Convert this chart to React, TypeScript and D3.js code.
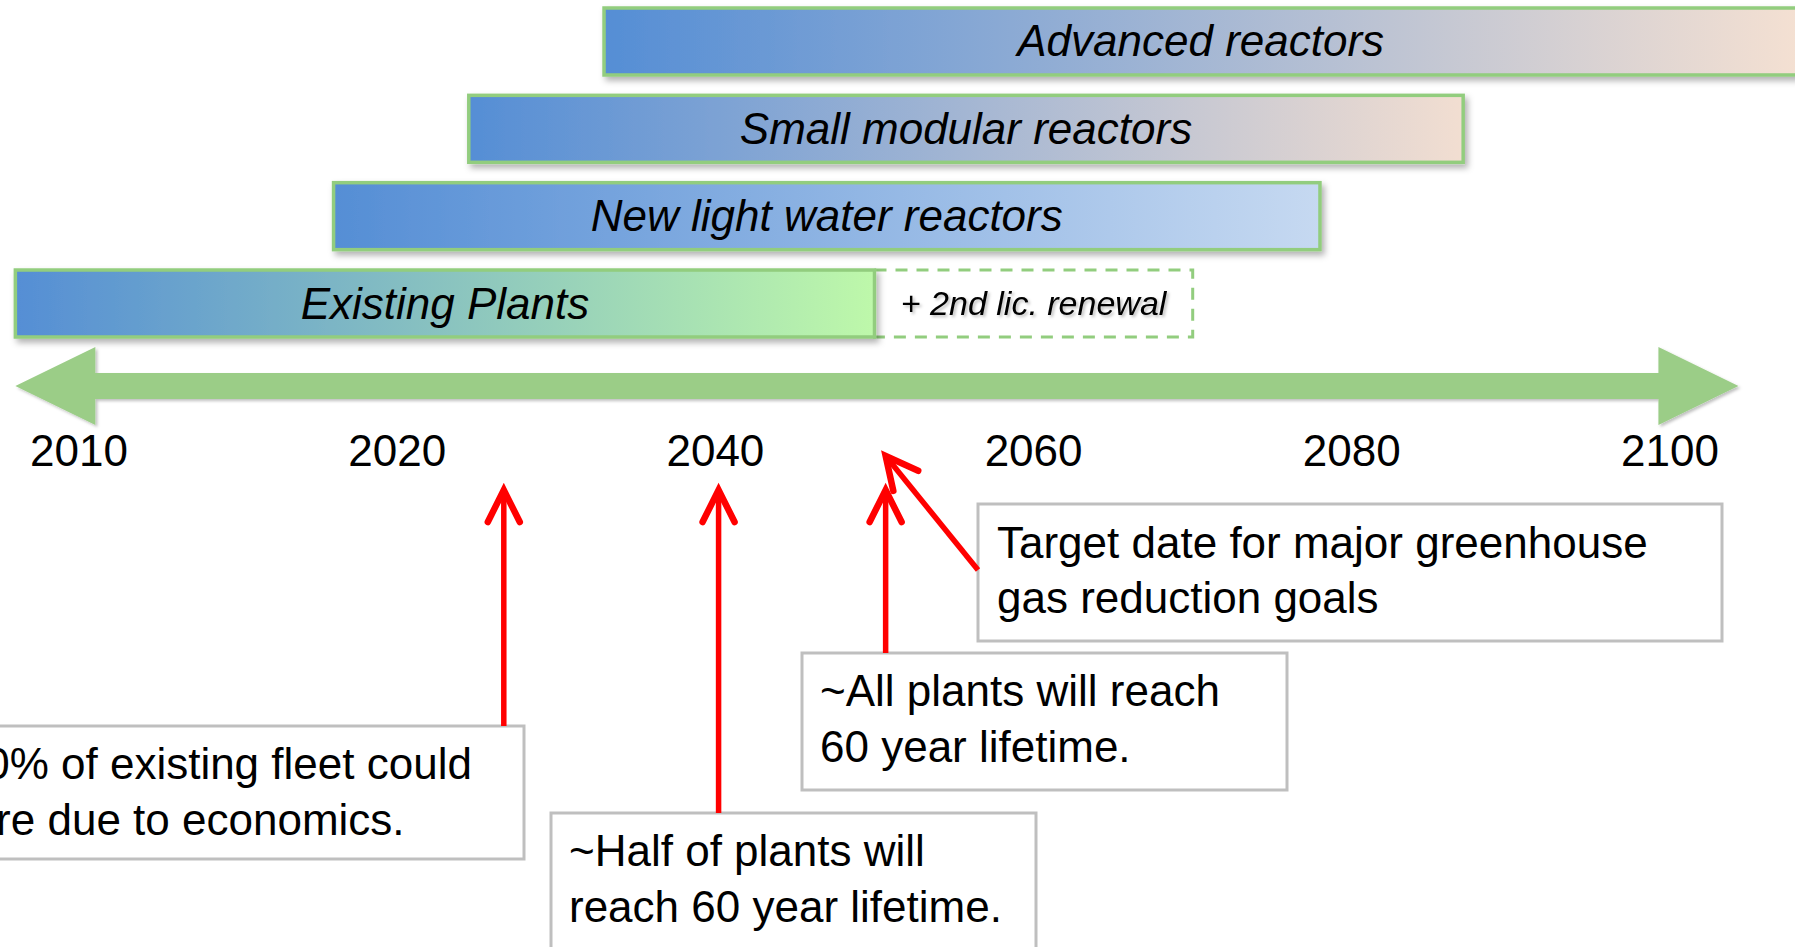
import React from 'react';
import * as d3 from 'd3';

// timeline ticks (evenly spaced in the picture, even though 2010->2020 is only 10 years)
const yearTicks = ['2010', '2020', '2040', '2060', '2080', '2100'];

// programme bars, top to bottom
const programs = ['Advanced reactors', 'Small modular reactors', 'New light water reactors', 'Existing Plants'];
const programStart = [2033, 2024.5, 2018, 2008];
const programEnd = [2108, 2087, 2078, 2050];
const programEndColor = ['#F4E0D2', '#F2DED1', '#C6D9F1', '#BEF8AA'];

const renewalLabel = '+ 2nd lic. renewal';
const renewalEnd = 2070;

const axisSpan = [2008, 2104.3];

// red call-outs
const noteYears = [2026.7, 2040.2, 2050.7];
const noteText = [
  ['~20% of existing fleet could', 'retire due to economics.'],
  ['~Half of plants will', 'reach 60 year lifetime.'],
  ['~All plants will reach', '60 year lifetime.'],
];
const targetYear = 2050.7;
const targetText = ['Target date for major greenhouse', 'gas reduction goals'];

const W = 1795;
const H = 947;
const FONT = '"Liberation Sans Narrow", "Arial Narrow", sans-serif';
const BLUE = '#558ED5';
const GREEN_LINE = '#92CD7E';
const ARROW_GREEN = '#9BCD87';
const RED = '#FF0000';

// note box placement (layout only)
const noteBoxes = [
  { x: -83, y: 726, w: 607, h: 133 },
  { x: 551, y: 813, w: 485, h: 150 },
  { x: 802, y: 653, w: 485, h: 137 },
];
const targetBox = { x: 978, y: 504, w: 744, h: 137 };

export default function App() {
  const tick = d3.scalePoint<string>().domain(yearTicks).range([79, 1670]).padding(0);
  const years = yearTicks.map(Number);
  const x = d3.scaleLinear().domain(years).range(yearTicks.map((t) => tick(t) as number));

  const row = d3.scaleBand<string>().domain(programs).range([8, 337]).paddingInner(0.233).paddingOuter(0);
  const bh = row.bandwidth();

  const axisY = 386;
  const x0 = x(axisSpan[0]);
  const x1 = x(axisSpan[1]);
  const head = 80;
  const shaft = 13;
  const half = 39;
  const axisPath = d3.path();
  axisPath.moveTo(x0, axisY);
  axisPath.lineTo(x0 + head, axisY - half);
  axisPath.lineTo(x0 + head, axisY - shaft);
  axisPath.lineTo(x1 - head, axisY - shaft);
  axisPath.lineTo(x1 - head, axisY - half);
  axisPath.lineTo(x1, axisY);
  axisPath.lineTo(x1 - head, axisY + half);
  axisPath.lineTo(x1 - head, axisY + shaft);
  axisPath.lineTo(x0 + head, axisY + shaft);
  axisPath.lineTo(x0 + head, axisY + half);
  axisPath.closePath();

  const existing = programs[3];
  const exY = row(existing) as number;

  return (
    <svg width={W} height={H} style={{ position: 'absolute', left: 0, top: 0, background: '#fff' }}>
      <defs>
        <filter id="shadow" x="-5%" y="-20%" width="115%" height="160%">
          <feDropShadow dx="3" dy="4" stdDeviation="3" floodColor="#000" floodOpacity="0.3" />
        </filter>
        <filter id="tshadow" x="-5%" y="-20%" width="115%" height="160%">
          <feDropShadow dx="2" dy="2" stdDeviation="1.5" floodColor="#000" floodOpacity="0.25" />
        </filter>
        {programs.map((p, i) => (
          <linearGradient key={p} id={`g${i}`} x1="0" x2="1" y1="0" y2="0">
            <stop offset="0" stopColor={BLUE} />
            <stop offset="1" stopColor={programEndColor[i]} />
          </linearGradient>
        ))}
        <marker id="head" markerUnits="userSpaceOnUse" orient="auto" refX="0" refY="0"
          viewBox="-40 -25 50 50" markerWidth="50" markerHeight="50" overflow="visible">
          <path d="M-32,-16 L0,0 L-32,16" fill="none" stroke={RED} strokeWidth={6.5}
            strokeLinecap="round" strokeLinejoin="miter" />
        </marker>
      </defs>

      {/* renewal dashed extension */}
      <rect x={x(programEnd[3])} y={exY} width={x(renewalEnd) - x(programEnd[3])} height={bh}
        fill="#fff" stroke={GREEN_LINE} strokeWidth={3} strokeDasharray="12 9" />
      <text x={(x(programEnd[3]) + x(renewalEnd)) / 2} y={exY + bh / 2 + 11} textAnchor="middle"
        fontFamily={FONT} fontStyle="italic" fontSize={34} fill="#000" filter="url(#tshadow)">
        {renewalLabel}
      </text>

      {/* programme bars */}
      {programs.map((p, i) => {
        const bx = x(programStart[i]);
        const bw = x(programEnd[i]) - bx;
        const by = row(p) as number;
        return (
          <g key={p}>
            <rect x={bx} y={by} width={bw} height={bh} fill={`url(#g${i})`} stroke={GREEN_LINE}
              strokeWidth={3.5} filter="url(#shadow)" />
            <text x={bx + bw / 2} y={by + bh / 2 + 15} textAnchor="middle" fontFamily={FONT}
              fontStyle="italic" fontSize={44} fill="#000">
              {p}
            </text>
          </g>
        );
      })}

      {/* timeline arrow */}
      <path d={axisPath.toString()} fill={ARROW_GREEN} filter="url(#tshadow)" />
      {yearTicks.map((t) => (
        <text key={t} x={tick(t)} y={466} textAnchor="middle" fontFamily={FONT} fontSize={44} fill="#000">
          {t}
        </text>
      ))}

      {/* call-out boxes */}
      {noteBoxes.map((b, i) => (
        <g key={i}>
          <rect x={b.x} y={b.y} width={b.w} height={b.h} fill="#fff" stroke="#BFBFBF" strokeWidth={3} />
          {noteText[i].map((line, j) => (
            <text key={j} x={b.x + 18} y={b.y + 53 + j * 56} fontFamily={FONT} fontSize={44} fill="#000">
              {line}
            </text>
          ))}
          <line x1={x(noteYears[i])} x2={x(noteYears[i])} y1={b.y} y2={490} stroke={RED}
            strokeWidth={5.5} markerEnd="url(#head)" />
        </g>
      ))}

      <rect x={targetBox.x} y={targetBox.y} width={targetBox.w} height={targetBox.h} fill="#fff"
        stroke="#BFBFBF" strokeWidth={3} />
      {targetText.map((line, j) => (
        <text key={j} x={targetBox.x + 19} y={targetBox.y + 54 + j * 55} fontFamily={FONT} fontSize={44} fill="#000">
          {line}
        </text>
      ))}
      <line x1={targetBox.x} y1={570} x2={x(targetYear)} y2={456} stroke={RED} strokeWidth={5.5}
        markerEnd="url(#head)" />
    </svg>
  );
}
